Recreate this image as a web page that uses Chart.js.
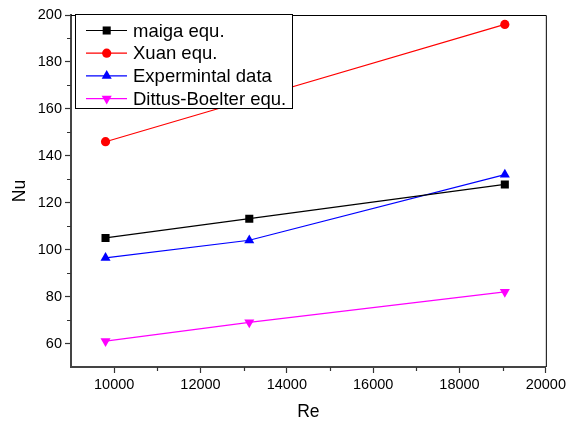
<!DOCTYPE html>
<html>
<head>
<meta charset="utf-8">
<script src="https://cdn.jsdelivr.net/npm/chart.js@4"></script>
<style>
html, body { margin: 0; padding: 0; background: #fff; }
</style>
</head>
<body>
<canvas id="nuChart" width="569" height="424"></canvas>
<script>
// values
const reValues = [9800, 13130, 19050]
const maigaNu = [105, 113.2, 127.8]
const xuanNu = [146, 164, 196]
const expNu = [96.5, 104, 132]
const dittusNu = [61, 69, 82]
const seriesNames = ['maiga equ.', 'Xuan equ.', 'Expermintal data', 'Dittus-Boelter equ.']

const xTicks = [10000, 12000, 14000, 16000, 18000, 20000]
const xMinor = [11000, 13000, 15000, 17000, 19000]
const yTicks = [60, 80, 100, 120, 140, 160, 180, 200]
const yMinor = [70, 90, 110, 130, 150, 170, 190]

const FONT = "'Liberation Sans', Arial, sans-serif"

const toPoints = ys => reValues.map((x, i) => ({ x: x, y: ys[i] }))

const styles = [
    { color: '#000000', pointStyle: 'rect', radius: 5.7, rotation: 0 },
    { color: '#ff0000', pointStyle: 'circle', radius: 4.6, rotation: 0 },
    { color: '#0000ff', pointStyle: 'triangle', radius: 5.8, rotation: 0 },
    { color: '#ff00ff', pointStyle: 'triangle', radius: 5.8, rotation: 180 }
]

const makeSet = (i, ys) => ({
    label: seriesNames[i],
    data: toPoints(ys),
    borderColor: styles[i].color,
    backgroundColor: styles[i].color,
    borderWidth: 1.2,
    pointStyle: styles[i].pointStyle,
    pointRadius: styles[i].radius,
    pointRotation: styles[i].rotation,
    pointBorderWidth: 0,
    tension: 0
})

function drawMarker(ctx, st, x, y) {
    ctx.fillStyle = st.color
    ctx.beginPath()
    if (st.pointStyle === 'rect') {
        const h = st.radius * Math.SQRT1_2
        ctx.rect(x - h, y - h, 2 * h, 2 * h)
    } else if (st.pointStyle === 'circle') {
        ctx.arc(x, y, st.radius, 0, Math.PI * 2)
    } else {
        let a = st.rotation * Math.PI / 180
        for (let k = 0; k < 3; k++) {
            const px = x + Math.sin(a) * st.radius
            const py = y - Math.cos(a) * st.radius
            if (k === 0) ctx.moveTo(px, py); else ctx.lineTo(px, py)
            a += Math.PI * 2 / 3
        }
        ctx.closePath()
    }
    ctx.fill()
}

const framePlugin = {
    id: 'frameAndLegend',
    afterDraw(chart) {
        const ctx = chart.ctx
        const a = chart.chartArea
        const xs = chart.scales.x
        const ys = chart.scales.y
        ctx.save()

        // top and right frame
        ctx.strokeStyle = '#000'
        ctx.lineWidth = 1
        ctx.beginPath()
        ctx.moveTo(a.left, a.top + 0.5)
        ctx.lineTo(a.right + 0.5, a.top + 0.5)
        ctx.lineTo(a.right + 0.5, a.bottom)
        ctx.stroke()

        // minor ticks
        ctx.strokeStyle = '#333'
        ctx.lineWidth = 1.2
        ctx.beginPath()
        xMinor.forEach(v => {
            const px = Math.round(xs.getPixelForValue(v)) + 0.5
            ctx.moveTo(px, a.bottom)
            ctx.lineTo(px, a.bottom + 4)
        })
        yMinor.forEach(v => {
            const py = Math.round(ys.getPixelForValue(v)) + 0.5
            ctx.moveTo(a.left - 4, py)
            ctx.lineTo(a.left, py)
        })
        ctx.stroke()

        // legend box
        const bx = 75.5, by = 14.5, bw = 217, bh = 94
        ctx.fillStyle = '#fff'
        ctx.fillRect(bx, by, bw, bh)
        ctx.strokeStyle = '#000'
        ctx.lineWidth = 1
        ctx.strokeRect(bx, by, bw, bh)

        ctx.font = '18.5px ' + FONT
        ctx.textBaseline = 'middle'
        ctx.textAlign = 'left'
        chart.data.datasets.forEach((ds, i) => {
            const y = 30.5 + i * 22.7
            ctx.strokeStyle = styles[i].color
            ctx.lineWidth = 1.2
            ctx.beginPath()
            ctx.moveTo(86, y)
            ctx.lineTo(127, y)
            ctx.stroke()
            drawMarker(ctx, styles[i], 106.7, y)
            ctx.fillStyle = '#000'
            ctx.fillText(ds.label, 133, y + 1)
        })
        ctx.restore()
    }
}

const ctx = document.getElementById('nuChart').getContext('2d')

new Chart(ctx, {
    type: 'line',
    data: {
        datasets: [
            makeSet(0, maigaNu),
            makeSet(1, xuanNu),
            makeSet(2, expNu),
            makeSet(3, dittusNu)
        ]
    },
    options: {
        responsive: false,
        devicePixelRatio: 1,
        animation: false,
        layout: { padding: { top: 15, right: 21, left: 0, bottom: 0 } },
        plugins: {
            legend: { display: false },
            tooltip: { enabled: false }
        },
        scales: {
            x: {
                type: 'linear',
                min: 9000,
                max: 20000,
                afterBuildTicks: s => { s.ticks = xTicks.map(v => ({ value: v })) },
                afterFit: s => { s.height = 57 },
                ticks: {
                    color: '#000',
                    font: { family: FONT, size: 14.5 },
                    padding: 3,
                    maxRotation: 0,
                    callback: v => String(v)
                },
                grid: { drawOnChartArea: false, tickLength: 6, color: '#333', tickWidth: 1.2 },
                border: { color: '#444', width: 2 },
                title: {
                    display: true,
                    text: 'Re',
                    color: '#000',
                    font: { family: FONT, size: 17.5 },
                    padding: { top: 0, bottom: 1 }
                }
            },
            y: {
                type: 'linear',
                min: 50,
                max: 200,
                afterBuildTicks: s => { s.ticks = yTicks.map(v => ({ value: v })) },
                afterFit: s => { s.width = 71 },
                ticks: {
                    color: '#000',
                    font: { family: FONT, size: 14.5 },
                    padding: 3,
                    callback: v => String(v)
                },
                grid: { drawOnChartArea: false, tickLength: 6, color: '#333', tickWidth: 1.2 },
                border: { color: '#444', width: 2 },
                title: {
                    display: true,
                    text: 'Nu',
                    color: '#000',
                    font: { family: FONT, size: 17.5 },
                    padding: { top: 10, bottom: 0 }
                }
            }
        }
    },
    plugins: [framePlugin]
})
</script>
</body>
</html>
